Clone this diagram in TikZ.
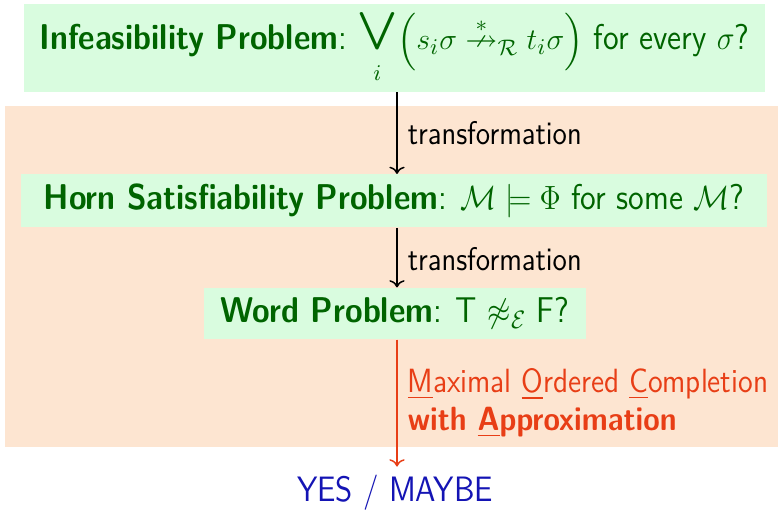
\documentclass[tikz,border=0pt]{standalone}
\usepackage{amsmath}
\usepackage{amssymb}
\usepackage{graphicx}
\usepackage{tikz}
\usetikzlibrary{positioning,arrows.meta,calc}

\renewcommand{\familydefault}{\sfdefault}
\newcommand{\tall}[1]{\scalebox{1}[1.12]{#1}}
\newcommand{\bigor}{\mathop{\resizebox{16pt}{15pt}{\raisebox{\depth}{$\bigvee$}}}}

\definecolor{probfill}{RGB}{217,252,223}
\definecolor{probtext}{RGB}{0,100,0}
\definecolor{zonefill}{RGB}{253,229,209}
\definecolor{macred}{RGB}{232,62,22}
\definecolor{ansblue}{RGB}{20,20,180}

\begin{document}
\begin{tikzpicture}[
  x=0.4pt, y=-0.4pt,
  prob/.style={fill=probfill, text=probtext, inner sep=0pt, align=center,
               font=\fontsize{12.8}{15}\selectfont},
  arr/.style={->, line width=0.6pt},
  redarr/.style={->, line width=0.6pt, draw=macred},
  lbl/.style={right, inner sep=4pt, align=left, font=\fontsize{11.7}{14}\selectfont}
]
\useasboundingbox (0,0) rectangle (778,511);
% shaded zone behind the lower part
\fill[zonefill] (5,106) rectangle (778,447);
\coordinate (axis) at (397,0);

\node[prob, minimum width=296.4pt, minimum height=35.2pt] (infeas) at (394.5,48)
  {\tall{\textbf{Infeasibility Problem}:} $\displaystyle\bigor\limits_{\rule{0pt}{10pt}i} \Bigl(s_i\sigma \mathrel{\overset{*}{\nrightarrow}}_{\mathcal{R}} t_i\sigma\Bigr)$ \tall{for every $\sigma$?}};
\node[prob, minimum width=298pt, minimum height=21.2pt] (horn) at (394,201)
  {\tall{\textbf{Horn Satisfiability Problem}: $\mathcal{M} \models \Phi$ for some $\mathcal{M}$?}};
\node[prob, minimum width=152.8pt, minimum height=20.4pt] (word) at (395,313.5)
  {\tall{\textbf{Word Problem}: T $\not\approx_{\mathcal{E}}$ F?}};
\node[text=ansblue, font=\fontsize{12.6}{15}\selectfont] (answer) at (395,493) {\tall{YES / MAYBE}};

\draw[arr] (infeas.south -| axis) -- node[lbl] {\tall{transformation}} (horn.north -| axis);
\draw[arr] (horn.south -| axis) -- node[lbl, yshift=-0.6pt] {\tall{transformation}} (word.north -| axis);
\draw[redarr] (word.south -| axis) -- node[lbl, text=macred, font=\fontsize{12}{15.2}\selectfont]
  {\tall{\underline{M}aximal \underline{O}rdered \underline{C}ompletion}\\
   \tall{\textbf{with \underline{A}pproximation}}} (answer.north -| axis);
\end{tikzpicture}
\end{document}
